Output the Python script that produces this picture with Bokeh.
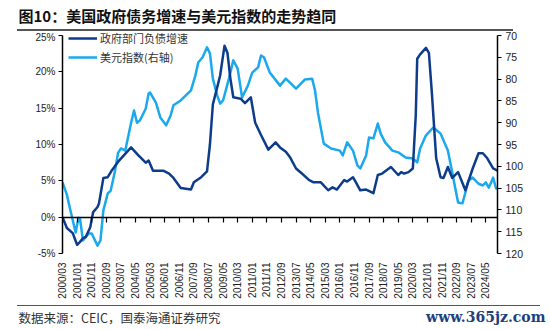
from bokeh.plotting import figure
from bokeh.layouts import column, row
from bokeh.models import (Range1d, LinearAxis, FixedTicker, Legend, LegendItem,
                          ColumnDataSource, Div)
from bokeh.core.properties import value
from bokeh.embed import file_html
from bokeh.resources import INLINE

# ---------------- data ----------------
tick_labels = ["2000/03", "2001/01", "2001/11", "2002/09", "2003/07", "2004/05",
               "2005/03", "2006/01", "2006/11", "2007/09", "2008/07", "2009/05",
               "2010/03", "2011/01", "2011/11", "2012/09", "2013/07", "2014/05",
               "2015/03", "2016/01", "2016/11", "2017/09", "2018/07", "2019/05",
               "2020/03", "2021/01", "2021/11", "2022/09", "2023/07", "2024/05"]

debt_dates = ["2000/03", "2000/06", "2000/10", "2001/01", "2001/03", "2001/05", "2001/07",
              "2001/10", "2001/12", "2002/03", "2002/04", "2002/07", "2002/10", "2003/01",
              "2003/05", "2003/09", "2004/02", "2004/07", "2004/12", "2005/02", "2005/05",
              "2005/12", "2006/04", "2006/07", "2006/12", "2007/07", "2007/09", "2008/02",
              "2008/06", "2008/08", "2008/10", "2009/01", "2009/03", "2009/06", "2009/08",
              "2009/10", "2009/12", "2010/05", "2010/08", "2010/12", "2011/03", "2011/07",
              "2011/12", "2012/05", "2012/08", "2012/12", "2013/03", "2013/07", "2013/11",
              "2014/04", "2014/07", "2014/12", "2015/05", "2015/08", "2015/11", "2016/04",
              "2016/06", "2016/10", "2016/12", "2017/03", "2017/07", "2017/12", "2018/03",
              "2018/06", "2018/12", "2019/05", "2019/07", "2019/09", "2019/12", "2020/03",
              "2020/05", "2020/06", "2020/08", "2020/12", "2021/02", "2021/04", "2021/07",
              "2021/10", "2021/12", "2022/03", "2022/06", "2022/10", "2023/03", "2023/08",
              "2023/12", "2024/03", "2024/06", "2024/10", "2025/01"]
debt_growth = [0.0, -1.5, -2.2, -3.8, -3.4, -2.9, -2.7,
               -1.4, 0.7, 1.4, 1.9, 5.4, 5.5, 6.5,
               7.6, 8.5, 9.6, 8.5, 7.5, 7.8, 6.4,
               6.4, 6.0, 5.4, 4.0, 3.8, 4.8, 5.5,
               6.3, 10.0, 15.5, 17.9, 19.5, 23.6, 22.6,
               19.1, 16.5, 16.3, 15.7, 16.5, 13.0, 11.3,
               9.3, 10.3, 9.6, 9.0, 8.2, 6.7, 6.0,
               5.1, 4.8, 4.8, 3.7, 4.1, 3.8, 5.1,
               4.9, 5.5, 4.8, 3.7, 3.8, 3.3, 5.8,
               6.0, 6.9, 5.8, 6.2, 6.0, 6.2, 6.7,
               14.0, 21.8, 22.4, 23.3, 22.6, 17.2, 8.1,
               5.5, 5.4, 6.9, 5.4, 6.2, 3.7, 6.7,
               8.8, 8.8, 8.1, 6.7, 6.4]

usd_dates = ["2000/03", "2000/06", "2000/08", "2000/12", "2001/02", "2001/03", "2001/05",
             "2001/09", "2001/11", "2002/03", "2002/05", "2002/07", "2002/10", "2002/12",
             "2003/03", "2003/05", "2003/07", "2003/10", "2004/02", "2004/04", "2004/06",
             "2004/08", "2004/12", "2005/02", "2005/03", "2005/07", "2005/10", "2006/02",
             "2006/05", "2006/07", "2006/12", "2007/07", "2007/10", "2007/12", "2008/03",
             "2008/06", "2008/08", "2008/10", "2009/01", "2009/03", "2009/05", "2009/09",
             "2009/12", "2010/03", "2010/06", "2010/10", "2011/01", "2011/05", "2011/07",
             "2011/09", "2012/01", "2012/08", "2012/12", "2013/07", "2014/01", "2014/06",
             "2014/08", "2014/10", "2015/02", "2015/07", "2016/01", "2016/03", "2016/06",
             "2016/10", "2017/01", "2017/03", "2017/07", "2017/09", "2017/12", "2018/03",
             "2018/05", "2018/08", "2019/01", "2019/05", "2019/10", "2020/03", "2020/06",
             "2020/08", "2020/12", "2021/05", "2021/10", "2022/01", "2022/03", "2022/06",
             "2022/08", "2022/10", "2023/01", "2023/03", "2023/05", "2023/08", "2023/12",
             "2024/03", "2024/05", "2024/07", "2024/10", "2024/12", "2025/01"]
usd_index = [103.7, 106.5, 109.5, 115.2, 111.8, 112.0, 117.0,
             115.4, 115.4, 118.2, 117.0, 110.1, 106.2, 105.6,
             101.0, 97.0, 95.9, 96.4, 90.0, 87.2, 90.0,
             89.5, 86.8, 83.3, 83.1, 85.4, 88.8, 90.6,
             88.4, 86.0, 84.9, 82.6, 79.2, 76.2, 75.0,
             72.7, 74.1, 79.9, 83.8, 85.6, 84.9, 79.9,
             75.7, 77.6, 84.2, 81.5, 78.5, 77.3, 74.6,
             75.0, 78.5, 81.5, 79.9, 82.2, 80.1, 79.9,
             82.6, 87.7, 94.8, 95.9, 96.4, 97.5, 94.5,
             96.4, 99.8, 100.5, 97.5, 93.4, 93.6, 90.2,
             92.5, 94.5, 96.4, 96.8, 98.0, 98.2, 99.1,
             95.9, 92.9, 91.1, 92.5, 94.8, 96.4, 101.4,
             104.9, 108.3, 108.5, 106.0, 103.3, 102.6, 104.0,
             104.4, 103.7, 104.9, 102.6, 105.1, 105.1]

left_ticks = [-5, 0, 5, 10, 15, 20, 25]
right_ticks = [70, 75, 80, 85, 90, 95, 100, 105, 110, 115, 120]

series_names = ["政府部门负债增速", "美元指数(右轴)"]
title_text = "图10：美国政府债务增速与美元指数的走势趋同"
source_text = "数据来源：CEIC，国泰海通证券研究"
watermark_text = "www.365jz.com"


def midx(s):
    y, m = map(int, s.split("/"))
    return (y - 2000) * 12 + (m - 3)


tick_pos = [midx(s) for s in tick_labels]

DARK = "#0d3c8a"
LIGHT = "#1ba8ec"
AXIS_FONT = "Liberation Sans"
CJK = "Noto Sans CJK SC"
RULE = "#555555"


def strip(h):
    f = figure(width=550, height=h, output_backend="svg", toolbar_location=None,
               title=None, x_range=Range1d(0, 550), y_range=Range1d(h, 0),
               x_axis_type=None, y_axis_type=None,
               min_border_left=0, min_border_right=0, min_border_top=0,
               min_border_bottom=0)
    f.outline_line_color = None
    f.grid.visible = False
    f.border_fill_alpha = 0
    f.background_fill_alpha = 0
    return f


def rule_div(left, width, h):
    # plain horizontal rule (page decoration, not data)
    return Div(text="", width=width, height=h, margin=(0, 0, 0, left),
               styles={"background-color": RULE})


# ---------------- title strip + rule ----------------
tf = strip(29)
tf.text(x=[18], y=[15], text=[title_text], text_font=value(CJK),
        text_font_size="15px", text_font_style="bold", text_color="#111111",
        text_baseline="middle", text_align="left")
rule_top = rule_div(17, 496, 2)

# ---------------- main chart ----------------
ext_left = 4 * 30 / 218
ext_right = 4 * 50 / 218
p = figure(width=550, height=274, output_backend="svg", toolbar_location=None,
           title=None, x_range=Range1d(0, 298), y_range=Range1d(-5, 25 + ext_left),
           min_border_left=62, min_border_right=53, min_border_top=0,
           min_border_bottom=52)
p.extra_y_ranges = {"usd": Range1d(120, 70 - ext_right)}
p.outline_line_color = None
p.grid.visible = False
p.background_fill_alpha = 0
p.border_fill_alpha = 0

xa = p.xaxis[0]
xa.ticker = FixedTicker(ticks=tick_pos)
xa.major_label_overrides = {pos: lab for pos, lab in zip(tick_pos, tick_labels)}
xa.major_label_orientation = 1.5708
xa.axis_line_color = None
xa.major_tick_line_color = None
xa.major_tick_out = 0
xa.major_tick_in = 0
xa.minor_tick_line_color = None
xa.major_label_text_font = AXIS_FONT
xa.major_label_text_font_size = "10px"
xa.major_label_text_color = "#222222"
xa.major_label_standoff = 9

za = LinearAxis(fixed_location=0, ticker=FixedTicker(ticks=tick_pos))
za.major_label_overrides = {pos: "" for pos in tick_pos}
za.major_label_text_font_size = "0px"
za.major_label_standoff = 0
za.axis_line_width = 1.5
za.axis_line_color = "black"
za.major_tick_out = 5
za.major_tick_in = 0
za.major_tick_line_width = 1.2
za.minor_tick_line_color = None
p.add_layout(za, "below")

ya = p.yaxis[0]
ya.ticker = FixedTicker(ticks=left_ticks)
ya.bounds = (-5, 25)
ya.major_label_overrides = {t: f"{t}%" for t in left_ticks}
ya.axis_line_width = 1.5
ya.major_tick_out = 4
ya.major_tick_in = 0
ya.major_tick_line_width = 1.2
ya.minor_tick_line_color = None
ya.major_label_text_font = AXIS_FONT
ya.major_label_text_font_size = "10px"
ya.major_label_text_color = "#222222"
ya.major_label_standoff = 3

ra = LinearAxis(y_range_name="usd", ticker=FixedTicker(ticks=right_ticks), bounds=(70, 120))
ra.axis_line_width = 1.5
ra.major_tick_out = 4
ra.major_tick_in = 0
ra.major_tick_line_width = 1.2
ra.minor_tick_line_color = None
ra.major_label_text_font = AXIS_FONT
ra.major_label_text_font_size = "10.5px"
ra.major_label_text_color = "#222222"
ra.major_label_standoff = 4
p.add_layout(ra, "right")

src_debt = ColumnDataSource(dict(x=[midx(d) for d in debt_dates], y=debt_growth))
src_usd = ColumnDataSource(dict(x=[midx(d) for d in usd_dates], y=usd_index))

r_usd = p.line("x", "y", source=src_usd, y_range_name="usd", line_color=LIGHT,
               line_width=2.5, line_join="round")
r_debt = p.line("x", "y", source=src_debt, line_color=DARK, line_width=2.5,
                line_join="round")

legend = Legend(items=[LegendItem(label=series_names[0], renderers=[r_debt]),
                       LegendItem(label=series_names[1], renderers=[r_usd])],
                location=(6, 188), orientation="vertical")
legend.background_fill_alpha = 0
legend.border_line_color = None
legend.padding = 0
legend.margin = 0
legend.spacing = 3
legend.glyph_width = 29
legend.glyph_height = 14
legend.label_height = 14
legend.label_standoff = 3
legend.label_text_font = CJK
legend.label_text_font_size = "11px"
legend.label_text_color = "#333333"
p.add_layout(legend, "center")

# ---------------- footer rule + strip ----------------
rule_bottom = rule_div(17, 523, 1)
ff = strip(23)
ff.text(x=[18], y=[10.5], text=[source_text], text_font=value(CJK),
        text_font_size="12.5px", text_color="#333333",
        text_baseline="middle", text_align="left")
ff.text(x=[545], y=[10.5], text=[watermark_text], text_font=value("DejaVu Serif"),
        text_font_size="14px", text_font_style="bold", text_color="#1d3f7e",
        text_baseline="middle", text_align="right")

layout = column(row(tf), rule_top, p, rule_bottom, row(ff), spacing=0)
open("out.html", "w").write(file_html(layout, INLINE))
